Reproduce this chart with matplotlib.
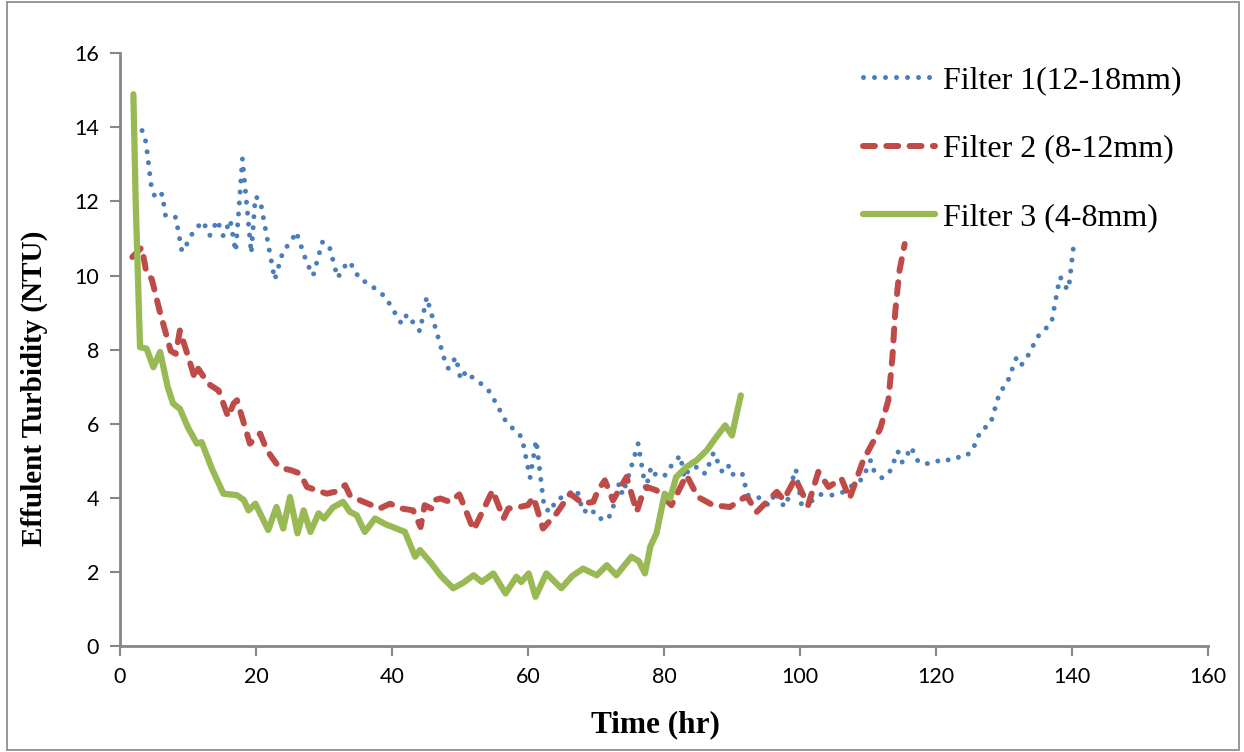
import matplotlib
matplotlib.use("Agg")
import matplotlib.pyplot as plt
from matplotlib.patches import Rectangle

# Filter 1 (12-18mm)
f1_time = [2, 3.3, 3.8, 4.6, 5.2, 6.2, 6.7, 8.2, 9.1, 10.0, 10.8, 12.2, 13.2, 14.3, 15.2, 16.2,
           17.0, 17.4, 18.0, 19.3, 19.9, 20.6, 22.75, 24.0, 25.1, 25.9, 27.5, 28.4, 29.75, 30.7,
           32.0, 33.5, 34.5, 35.1, 36.6, 39.0, 41.4, 42.2, 44.1, 45.1, 47.8, 48.3, 49.4, 50.1,
           50.9, 51.9, 53.2, 54.4, 56.8, 59.1, 60.3, 61.2, 62.4, 63.4, 64.0, 67.2, 68.1, 69.3,
           70.1, 71.7, 72.4, 73.4, 73.9, 74.8, 76.2, 77.3, 78.1, 78.9, 80.2, 81.1, 82.4, 83.0,
           84.4, 84.9, 86.1, 87.3, 88.5, 89.4, 89.95, 90.7, 91.5, 92.3, 93.6, 94.6, 95.4, 96.5,
           96.95, 98.0, 98.7, 99.4, 100.2, 101.8, 103.1, 104.9, 106.5, 107.8, 109.2, 110.4,
           110.9, 112.1, 113.3, 114.4, 115.0, 115.7, 116.1, 116.8, 117.4, 118.8, 120.0, 121.2,
           122.6, 124.0, 125.3, 126.6, 128.0, 129.4, 130.4, 131.8, 132.5, 133.5, 135.0, 137.0,
           137.9, 138.3, 138.9, 139.5, 140.3]
f1_ntu = [14.1, 13.9, 13.6, 12.4, 12.08, 12.2, 11.6, 11.57, 10.65, 10.9, 11.2, 11.46, 11.08,
          11.49, 11.06, 11.5, 10.65, 11.6, 13.15, 10.6, 12.13, 12.04, 9.89, 10.67, 10.9, 11.18,
          10.33, 10.0, 10.9, 10.84, 9.94, 10.38, 10.2, 9.92, 9.78, 9.43, 8.7, 8.95, 8.5, 9.42,
          7.68, 7.49, 7.8, 7.2, 7.42, 7.24, 7.07, 6.86, 6.05, 5.64, 4.55, 5.56, 3.72, 3.63, 3.93,
          4.23, 3.62, 3.73, 3.47, 3.41, 3.67, 4.4, 4.1, 4.6, 5.47, 4.24, 4.83, 4.59, 4.62, 4.88,
          5.15, 4.54, 5.04, 4.75, 4.66, 5.23, 4.73, 4.91, 4.62, 4.7, 4.67, 4.08, 4.05, 3.94, 3.8,
          4.17, 3.87, 3.78, 4.39, 4.78, 3.85, 3.93, 4.1, 4.08, 4.17, 4.36, 4.52, 5.02, 4.73, 4.54,
          4.74, 5.26, 4.97, 5.07, 5.37, 5.24, 4.97, 4.93, 5.01, 4.97, 5.11, 5.09, 5.26, 5.83,
          5.99, 6.87, 7.07, 7.77, 7.57, 7.83, 8.36, 8.73, 9.65, 9.96, 9.72, 9.62, 10.9]

# Filter 2 (8-12mm)
f2_time = [1.8, 3.2, 3.9, 4.66, 5.8, 7.45, 8.2, 8.8, 10.2, 11.0, 11.5, 13.0, 14.5, 15.9, 16.7,
           17.2, 19.1, 20.6, 21.6, 23.0, 24.0, 25.2, 26.5, 27.5, 30.4, 31.6, 33.1, 33.8, 35.3,
           38.2, 39.7, 41.4, 43.1, 44.2, 44.8, 45.8, 46.1, 47.1, 48.5, 49.9, 52.0, 54.8, 56.4,
           57.1, 58.5, 60.0, 60.8, 62.2, 64.2, 66.2, 68.1, 69.6, 70.3, 71.3, 72.5, 74.5, 76.0,
           76.7, 77.5, 78.9, 81.1, 83.3, 85.0, 87.2, 89.7, 91.9, 92.4, 93.6, 96.6, 97.6, 99.3,
           101.2, 102.7, 104.2, 106.1, 107.3, 109.3, 111.8, 113.0, 113.6, 114.0, 114.6, 115.4]
f2_ntu = [10.5, 10.76, 10.05, 9.91, 9.06, 7.97, 7.89, 8.52, 7.71, 7.22, 7.49, 7.08, 6.9, 6.19,
          6.55, 6.64, 5.47, 5.74, 5.29, 4.93, 4.8, 4.75, 4.66, 4.3, 4.12, 4.17, 4.35, 4.08, 3.94,
          3.72, 3.85, 3.72, 3.67, 3.22, 3.81, 3.72, 3.94, 3.99, 3.9, 4.1, 3.14, 4.21, 3.45, 3.72,
          3.75, 3.81, 4.03, 3.18, 3.59, 4.12, 3.85, 3.9, 4.21, 4.48, 3.94, 4.57, 3.63, 4.03, 4.3,
          4.21, 3.81, 4.62, 4.03, 3.81, 3.76, 4.03, 3.99, 3.62, 4.17, 3.95, 4.53, 3.81, 4.71, 4.3,
          4.53, 3.99, 5.02, 5.87, 6.64, 7.8, 9.0, 10.1, 10.85]

# Filter 3 (4-8mm)
f3_time = [1.96, 2.3, 2.94, 3.9, 4.9, 5.9, 7.0, 7.8, 8.8, 10.0, 11.3, 12.0, 13.5, 15.2, 17.2,
           18.2, 18.9, 19.9, 21.8, 23.0, 24.0, 25.0, 26.1, 27.0, 28.0, 29.2, 30.0, 31.3, 32.8,
           33.8, 34.8, 36.0, 37.5, 39.0, 41.2, 41.9, 43.4, 44.1, 45.8, 47.2, 49.0, 50.5, 52.0,
           53.2, 54.9, 56.7, 58.3, 59.0, 60.1, 61.1, 62.7, 64.9, 66.5, 68.1, 70.1, 71.6, 73.0,
           75.2, 76.3, 77.2, 78.0, 78.9, 80.1, 80.9, 81.8, 83.3, 84.8, 86.3, 87.5, 89.0, 90.0,
           90.6, 91.3]
f3_ntu = [14.89, 12.0, 8.07, 8.03, 7.53, 7.94, 7.0, 6.55, 6.41, 5.9, 5.47, 5.51, 4.8, 4.12,
          4.08, 3.95, 3.67, 3.85, 3.14, 3.76, 3.18, 4.03, 3.05, 3.67, 3.09, 3.59, 3.45, 3.75, 3.9,
          3.63, 3.54, 3.09, 3.45, 3.3, 3.14, 3.09, 2.42, 2.6, 2.24, 1.9, 1.57, 1.72, 1.92, 1.74,
          1.97, 1.43, 1.88, 1.74, 1.97, 1.34, 1.97, 1.57, 1.9, 2.1, 1.92, 2.19, 1.92, 2.42, 2.3,
          1.97, 2.7, 3.05, 4.12, 3.99, 4.57, 4.84, 5.02, 5.29, 5.6, 5.96, 5.69, 6.2, 6.77]

x_ticks = [0, 20, 40, 60, 80, 100, 120, 140, 160]
y_ticks = [0, 2, 4, 6, 8, 10, 12, 14, 16]

blue = "#4A7EBB"
red = "#BE4B48"
green = "#98B954"
grey = "#868686"
serif = "Liberation Serif"

fig = plt.figure(figsize=(12.44, 7.52), dpi=100)
ax = fig.add_axes([0.0965, 0.1403, 0.8745, 0.7892])

ax.plot(f1_time, f1_ntu, color=blue, lw=3.6, linestyle=(0, (0.001, 2.2)),
        dash_capstyle="round", solid_joinstyle="round", label="Filter 1(12-18mm)")
ax.plot(f2_time, f2_ntu, color=red, lw=4.3, linestyle=(0, (2.0, 1.9)),
        dash_capstyle="round", dash_joinstyle="round", label="Filter 2 (8-12mm)")
ax.plot(f3_time, f3_ntu, color=green, lw=4.5, solid_capstyle="round",
        solid_joinstyle="round", label="Filter 3 (4-8mm)")

ax.set_xlim(0, 160)
ax.set_ylim(0, 16)
ax.set_xticks(x_ticks)
ax.set_yticks(y_ticks)
ax.tick_params(direction="out", length=7, width=1.5, color=grey, labelsize=15.5, pad=8)
for lab in ax.get_xticklabels() + ax.get_yticklabels():
    lab.set_fontfamily("Lato")
for side in ["top", "right"]:
    ax.spines[side].set_visible(False)
for side in ["left", "bottom"]:
    ax.spines[side].set_color(grey)
    ax.spines[side].set_linewidth(2)

ax.set_xlabel("Time (hr)", fontfamily=serif, fontweight="bold", fontsize=22.5)
ax.set_ylabel("Effulent Turbidity (NTU)", fontfamily=serif, fontweight="bold", fontsize=21)
ax.xaxis.set_label_coords(0.492, -0.108)
ax.yaxis.set_label_coords(-0.0665, 0.435)

leg = ax.legend(loc="upper left", bbox_to_anchor=(863 / 1244, 1 - 66 / 752),
                bbox_transform=fig.transFigure, frameon=False, borderpad=0,
                borderaxespad=0, handlelength=2.25, handletextpad=0.25,
                labelspacing=1.22, prop={"family": serif, "size": 23})

# thin frame round the whole chart
fig.patches.append(Rectangle((0.006, 0.003), 0.99, 0.994, transform=fig.transFigure,
                             fill=False, edgecolor=grey, lw=1.2))

fig.savefig("out.png", dpi=100)
